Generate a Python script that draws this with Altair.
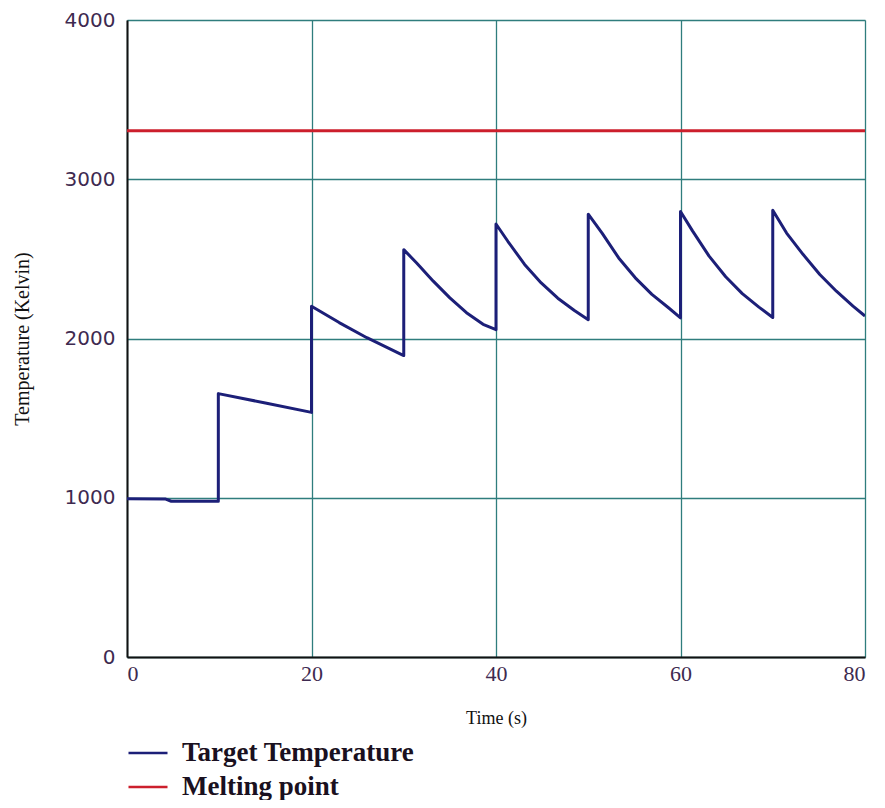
import altair as alt
import pandas as pd

# Target temperature
target_time = [0, 4.2, 4.8, 9.9, 9.9, 15, 20,
               20, 23, 26, 30,
               30, 31.4, 33.2, 35.0, 36.8, 38.6, 40,
               40, 41.3, 43.1, 44.9, 46.7, 48.5, 50,
               50, 51.5, 53.3, 55.1, 56.9, 58.7, 60,
               60, 61.3, 63.1, 64.9, 66.7, 68.5, 70,
               70, 71.5, 73.3, 75.1, 76.9, 78.7, 80]
target_temp = [993, 992, 978, 978, 1654, 1595, 1536,
               2203, 2100, 2005, 1893,
               2558, 2474, 2360, 2255, 2162, 2089, 2055,
               2719, 2609, 2465, 2349, 2253, 2176, 2118,
               2781, 2662, 2506, 2381, 2277, 2193, 2130,
               2798, 2676, 2517, 2388, 2282, 2197, 2132,
               2805, 2662, 2527, 2402, 2297, 2203, 2141]

melt_time = [0, 80]
melt_temp = [3305, 3305]

series_names = ["Target Temperature", "Melting point"]
series_colors = ["#1c1f78", "#cc1f2c"]

rows = []
for i, (t, v) in enumerate(zip(target_time, target_temp)):
    rows.append({"Time": t, "Temp": v, "Series": series_names[0], "idx": i})
for i, (t, v) in enumerate(zip(melt_time, melt_temp)):
    rows.append({"Time": t, "Temp": v, "Series": series_names[1], "idx": i})
df = pd.DataFrame(rows)

chart = alt.Chart(df).mark_line(strokeWidth=3, clip=True, strokeJoin="round").encode(
    x=alt.X("Time:Q", scale=alt.Scale(domain=[0, 80], nice=False),
            axis=alt.Axis(values=[0, 20, 40, 60, 80], title="Time (s)",
                          grid=True, gridColor="#2f7d7d", gridWidth=1.3,
                          domainColor="#111111", domainWidth=2, ticks=False,
                          labelFont="Liberation Serif", labelFontSize=22,
                          labelColor="#3e2a50", labelPadding=6,
                          titleFont="Liberation Serif", titleFontSize=18,
                          titleFontWeight="normal", titleColor="#111111",
                          titlePadding=25)),
    y=alt.Y("Temp:Q", scale=alt.Scale(domain=[0, 4000], nice=False),
            axis=alt.Axis(values=[0, 1000, 2000, 3000, 4000], format="d",
                          title="Temperature (Kelvin)",
                          grid=True, gridColor="#2f7d7d", gridWidth=1.3,
                          domainColor="#111111", domainWidth=2, ticks=False,
                          labelFont="DejaVu Sans", labelFontSize=20,
                          labelColor="#3e2a50", labelPadding=12,
                          titleFont="Liberation Serif", titleFontSize=20,
                          titleFontWeight="normal", titleColor="#111111",
                          titlePadding=32)),
    color=alt.Color("Series:N",
                    scale=alt.Scale(domain=series_names, range=series_colors),
                    legend=alt.Legend(title=None, orient="none",
                                      legendX=0, legendY=712,
                                      symbolType="stroke", symbolSize=1521,
                                      symbolStrokeWidth=2.5,
                                      labelFont="Liberation Serif",
                                      labelFontSize=27, labelFontWeight="bold",
                                      labelColor="#1a1020", labelOffset=13,
                                      labelLimit=0, rowPadding=0)),
    order="idx:Q",
).properties(
    width=738, height=637,
    autosize=alt.AutoSizeParams(type="none"),
    padding={"left": 119, "top": 12, "right": 12, "bottom": 143},
).configure_view(
    stroke="#333333", strokeWidth=1.5
).configure(background="white")

chart.save("out.html", embed_options={"renderer": "svg", "actions": False})
